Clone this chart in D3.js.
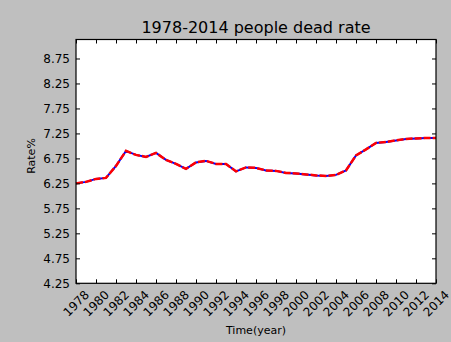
<!DOCTYPE html>
<html>
<head>
<meta charset="utf-8">
<script src="https://cdn.jsdelivr.net/npm/d3@7"></script>
<style>
  html, body { margin: 0; padding: 0; background: #bfbfbf; }
  svg { display: block; font-family: "DejaVu Sans", sans-serif; }
</style>
</head>
<body>
<script>
const years = d3.range(1978, 2015);
const rates = [6.25, 6.28, 6.34, 6.36, 6.60, 6.90, 6.82, 6.78, 6.86, 6.72,
               6.64, 6.54, 6.67, 6.70, 6.64, 6.64, 6.49, 6.57, 6.56, 6.51,
               6.50, 6.46, 6.45, 6.43, 6.41, 6.40, 6.42, 6.51, 6.81, 6.93,
               7.06, 7.08, 7.11, 7.14, 7.15, 7.16, 7.16];
const xTicks = d3.range(1978, 2015, 2);
const yTicks = [4.25, 4.75, 5.25, 5.75, 6.25, 6.75, 7.25, 7.75, 8.25, 8.75];
const titleText = "1978-2014 people dead rate";
const xLabel = "Time(year)";
const yLabel = "Rate%";

const W = 451, H = 342;
const m = { left: 76, right: 15, top: 39.5, bottom: 58.7 };
const iw = W - m.left - m.right, ih = H - m.top - m.bottom;

const svg = d3.select("body").append("svg").attr("width", W).attr("height", H);
svg.append("rect").attr("width", W).attr("height", H).attr("fill", "#bfbfbf");

const g = svg.append("g").attr("transform", `translate(${m.left},${m.top})`);
g.append("rect").attr("width", iw).attr("height", ih).attr("fill", "#ffffff");

const x = d3.scaleLinear().domain([1978, 2014]).range([0, iw]);
const y = d3.scaleLinear().domain([4.25, 9.13]).range([ih, 0]);

const data = years.map((yr, i) => ({ yr, v: rates[i] }));
const line = d3.line().x(d => x(d.yr)).y(d => y(d.v));

g.append("path").datum(data).attr("d", line)
  .attr("fill", "none").attr("stroke", "#0000ff").attr("stroke-width", 2);
g.append("path").datum(data).attr("d", line)
  .attr("fill", "none").attr("stroke", "#ff0000").attr("stroke-width", 2.5)
  .attr("stroke-dasharray", "7,2");

// axes (ticks inward, all four sides)
const tl = 4;
const ax = (gen, tr) => {
  const a = g.append("g").attr("transform", tr).call(gen);
  a.select(".domain").remove();
  a.selectAll("line").attr("stroke", "#000");
  return a;
};
ax(d3.axisBottom(x).tickValues(xTicks).tickSize(-tl).tickFormat(""), `translate(0,${ih})`);
ax(d3.axisTop(x).tickValues(xTicks).tickSize(-tl).tickFormat(""), `translate(0,0)`);
ax(d3.axisLeft(y).tickValues(yTicks).tickSize(-tl).tickFormat(""), `translate(0,0)`);
ax(d3.axisRight(y).tickValues(yTicks).tickSize(-tl).tickFormat(""), `translate(${iw},0)`);

g.append("rect").attr("width", iw).attr("height", ih)
  .attr("fill", "none").attr("stroke", "#000").attr("stroke-width", 1.2);

// y tick labels
g.selectAll(".ytl").data(yTicks).enter().append("text")
  .attr("x", -6).attr("y", d => y(d)).attr("dy", "0.36em")
  .attr("text-anchor", "end").attr("font-size", 12).attr("fill", "#000")
  .text(d => d.toFixed(2));

// x tick labels rotated 45
g.selectAll(".xtl").data(xTicks).enter().append("text")
  .attr("transform", d => `translate(${x(d)},${ih + 20}) rotate(-45)`)
  .attr("text-anchor", "middle").attr("dy", "0.36em")
  .attr("font-size", 12).attr("fill", "#000")
  .text(d => d);

// title & labels
svg.append("text").attr("x", m.left + iw / 2).attr("y", 33)
  .attr("text-anchor", "middle").attr("font-size", 16).attr("fill", "#000")
  .text(titleText);
svg.append("text").attr("x", m.left + iw / 2).attr("y", 334)
  .attr("text-anchor", "middle").attr("font-size", 11).attr("fill", "#000")
  .text(xLabel);
svg.append("text").attr("transform", `translate(35,156) rotate(-90)`)
  .attr("text-anchor", "middle").attr("font-size", 11).attr("fill", "#000")
  .text(yLabel);
</script>
</body>
</html>
